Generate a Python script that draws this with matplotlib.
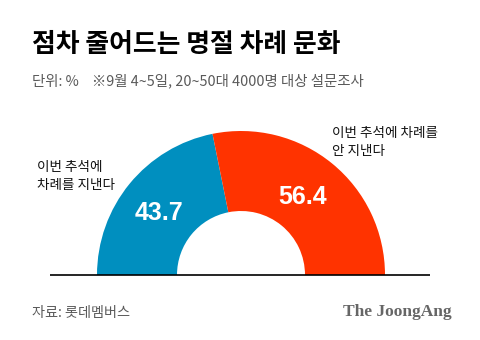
import matplotlib
matplotlib.use("Agg")
import matplotlib.pyplot as plt
from matplotlib.patches import Wedge

plt.rcParams['font.family'] = ['Noto Sans CJK KR', 'DejaVu Sans']

# Survey shares (%)
categories = ["이번 추석에\n차례를 지낸다", "이번 추석에 차례를\n안 지낸다"]
values = [43.7, 56.4]
value_labels = ["43.7", "56.4"]
colors = ["#008fbf", "#ff3300"]

title = "점차 줄어드는 명절 차례 문화"
subtitle = "단위: %    ※9월 4~5일, 20~50대 4000명 대상 설문조사"
source = "자료: 롯데멤버스"
brand = "The JoongAng"

W, H = 480, 340
fig = plt.figure(figsize=(W / 100, H / 100), dpi=100)
ax = fig.add_axes([0, 0, 1, 1])
ax.set_xlim(0, W)
ax.set_ylim(0, H)
ax.set_aspect("equal")
ax.axis("off")

# Half donut geometry (pixel space, y measured upward)
cx, cy = 241, 65
r_out, r_in = 144, 64
total = sum(values)

start = 180.0
for v, c in zip(values, colors):
    sweep = 180.0 * v / total
    end = start - sweep
    ax.add_patch(Wedge((cx, cy), r_out, end, start, width=r_out - r_in,
                       facecolor=c, edgecolor="none"))
    start = end

# Baseline
ax.plot([50, 430], [cy, cy], color="black", lw=1.2, solid_capstyle="butt")

# Values inside the segments
pos = [(159, 340 - 213), (303, 340 - 197)]
for (x, y), t in zip(pos, value_labels):
    ax.text(x, y, t, color="white", fontsize=18, fontweight="bold",
            family=["Liberation Sans", "DejaVu Sans"], ha="center", va="center")

# Category labels
ax.text(37, 340 - 176, categories[0], fontsize=9.8, color="#111111",
        ha="left", va="center", linespacing=1.35)
ax.text(332, 340 - 142, categories[1], fontsize=9.8, color="#111111",
        ha="left", va="center", linespacing=1.35)

# Title and notes
ax.text(32, 340 - 45, title, fontsize=18.6, fontweight="bold", color="black",
        ha="left", va="center")
ax.text(32, 340 - 81, subtitle, fontsize=10.4, color="#5a5a5a",
        ha="left", va="center")
ax.text(32, 340 - 313, source, fontsize=10.2, color="#5a5a5a",
        ha="left", va="center")
ax.text(452, 340 - 312, brand, fontsize=12.5, fontweight="bold", color="#666666",
        family=["Liberation Serif", "DejaVu Serif"], ha="right", va="center")

fig.savefig("out.png", dpi=100, facecolor="white")
